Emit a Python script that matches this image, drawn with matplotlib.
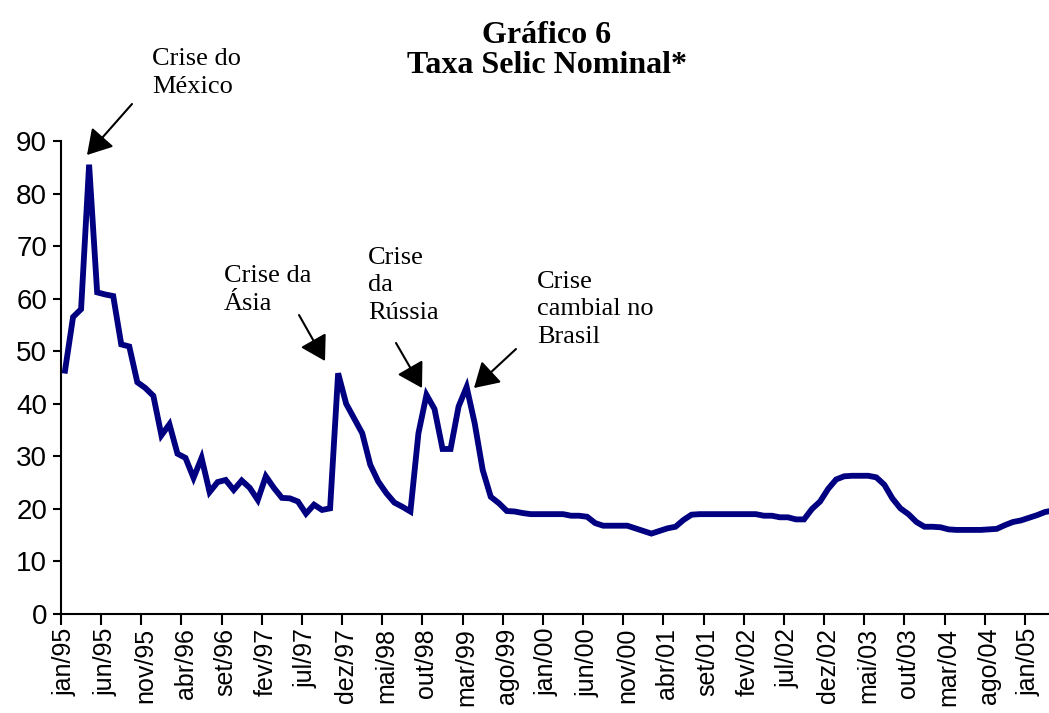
import matplotlib
matplotlib.use("Agg")
import matplotlib.pyplot as plt
import numpy as np

# Taxa Selic nominal mensal anualizada (% a.a.), jan/95 a abr/05
selic = [
    46.3, 56.5, 58.0, 85.5, 61.2, 60.8, 60.5, 51.3, 50.9, 44.1, 43.0, 41.5,   # 1995
    34.0, 36.1, 30.5, 29.7, 25.9, 29.7, 23.2, 25.1, 25.5, 23.6, 25.4, 24.0,   # 1996
    21.7, 26.2, 24.0, 22.1, 22.0, 21.4, 19.1, 20.8, 19.8, 20.1, 45.8, 40.0,   # 1997
    37.2, 34.4, 28.4, 25.2, 23.0, 21.2, 20.4, 19.5, 34.4, 41.7, 39.0, 31.4,   # 1998
    31.4, 39.5, 43.2, 36.3, 27.4, 22.3, 21.1, 19.6, 19.5, 19.2, 19.0, 19.0,   # 1999
    19.0, 19.0, 19.0, 18.7, 18.7, 18.5, 17.3, 16.8, 16.8, 16.8, 16.8, 16.3,   # 2000
    15.8, 15.3, 15.8, 16.3, 16.6, 17.9, 18.9, 19.0, 19.0, 19.0, 19.0, 19.0,   # 2001
    19.0, 19.0, 19.0, 18.7, 18.7, 18.4, 18.4, 18.0, 18.0, 20.0, 21.4, 23.8,   # 2002
    25.6, 26.2, 26.3, 26.3, 26.3, 26.0, 24.6, 22.0, 20.1, 19.0, 17.5, 16.6,   # 2003
    16.6, 16.5, 16.1, 16.0, 16.0, 16.0, 16.0, 16.1, 16.2, 16.9, 17.5, 17.8,   # 2004
    18.3, 18.8, 19.4, 19.7,                                                   # 2005
]

rotulos_x = ['jan/95', 'jun/95', 'nov/95', 'abr/96', 'set/96', 'fev/97', 'jul/97',
             'dez/97', 'mai/98', 'out/98', 'mar/99', 'ago/99', 'jan/00', 'jun/00',
             'nov/00', 'abr/01', 'set/01', 'fev/02', 'jul/02', 'dez/02', 'mai/03',
             'out/03', 'mar/04', 'ago/04', 'jan/05']

W, H = 1049, 713
fig = plt.figure(figsize=(W / 100, H / 100), dpi=100)
ax = fig.add_axes([61 / W, (H - 614) / H, (W - 61) / W, (614 - 141) / H])

x = np.arange(len(selic)) + 0.5
ax.plot(x, selic, color='#000080', lw=4.2, solid_joinstyle='miter', clip_on=True)

ax.set_xlim(0, 123.0)
ax.set_ylim(0, 90)

# rótulos no centro da categoria, marcas entre categorias (estilo Excel)
pos_rot = np.arange(len(rotulos_x)) * 5 + 0.5
ax.set_xticks(pos_rot)
ax.set_xticklabels(rotulos_x, rotation=90, fontsize=18, family='Liberation Sans')
ax.set_xticks(np.arange(0, 125, 5), minor=True)
ax.tick_params(axis='x', which='major', length=0, pad=10)
ax.tick_params(axis='x', which='minor', length=8, width=1.5, direction='out')

ax.set_yticks(np.arange(0, 91, 10))
ax.set_yticklabels([str(v) for v in range(0, 91, 10)], fontsize=20, family='Liberation Sans')
ax.tick_params(axis='y', length=6, width=1.5, direction='out', pad=4)

for s in ['top', 'right']:
    ax.spines[s].set_visible(False)
for s in ['left', 'bottom']:
    ax.spines[s].set_linewidth(1.5)

# Título
fig.text(547 / W, 1 - 43 / H, 'Gráfico 6', ha='center', va='baseline',
         fontsize=23, fontweight='bold', family='Liberation Serif')
fig.text(547 / W, 1 - 73 / H, 'Taxa Selic Nominal*', ha='center', va='baseline',
         fontsize=23, fontweight='bold', family='Liberation Serif')

# Anotações das crises (posição = linha de base da última linha)
seta = dict(arrowstyle='-|>,head_length=0.75,head_width=0.45', mutation_scale=20,
            lw=1.5, color='black', shrinkA=0, shrinkB=0)
crises = [
    ('Crise do\nMéxico', (152, 93), (132, 104), (87, 155)),
    ('Crise da\nÁsia', (224, 310), (299, 315), (325, 361)),
    ('Crise\nda\nRússia', (368, 319), (396, 343), (422, 388)),
    ('Crise\ncambial no\nBrasil', (537, 343), (516, 349), (474, 388)),
]
for texto, (tx, ty), (ax0, ay0), (ax1, ay1) in crises:
    fig.text(tx / W, 1 - ty / H, texto, ha='left', va='baseline', fontsize=19,
             family='Liberation Serif', linespacing=1.33)
    ax.annotate('', xy=(ax1, H - ay1), xycoords='figure pixels',
                xytext=(ax0, H - ay0), textcoords='figure pixels', arrowprops=seta)

fig.savefig('out.png', dpi=100)
